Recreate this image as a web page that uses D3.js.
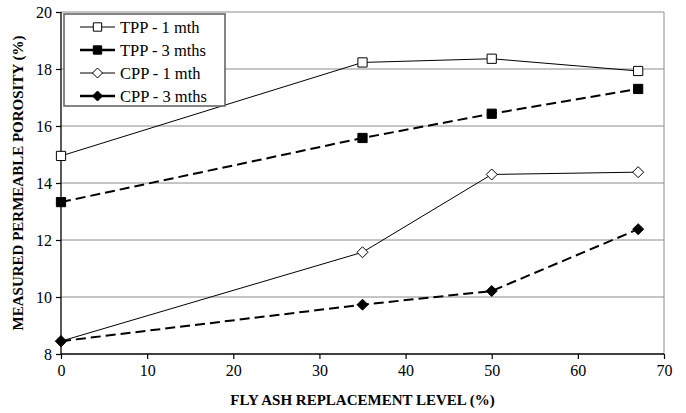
<!DOCTYPE html>
<html>
<head>
<meta charset="utf-8">
<script src="https://cdn.jsdelivr.net/npm/d3@7"></script>
<style>
  body { margin: 0; background: #fff; }
  text { font-family: "Liberation Serif", "Times New Roman", serif; }
</style>
</head>
<body>
<div id="chart"></div>
<script>
// data
const flyAsh = [0, 35, 50, 67];
const tpp1 = [14.95, 18.23, 18.36, 17.93];
const tpp3 = [13.33, 15.58, 16.43, 17.3];
const cpp1 = [8.45, 11.57, 14.3, 14.38];
const cpp3 = [8.45, 9.73, 10.21, 12.38];
const xTicks = [0, 10, 20, 30, 40, 50, 60, 70];
const yTicks = [8, 10, 12, 14, 16, 18, 20];

const seriesNames = ["TPP - 1 mth", "TPP - 3 mths", "CPP - 1 mth", "CPP - 3 mths"];
const seriesValues = [tpp1, tpp3, cpp1, cpp3];
const seriesStyle = [
  { marker: "square", fill: "#fff", width: 1, dash: null },
  { marker: "square", fill: "#000", width: 2, dash: "10,5" },
  { marker: "diamond", fill: "#fff", width: 1, dash: null },
  { marker: "diamond", fill: "#000", width: 2, dash: "10,5" }
];

const W = 686, H = 413;
const margin = { top: 12, right: 22, bottom: 59, left: 61 };
const width = W - margin.left - margin.right,
    height = H - margin.top - margin.bottom;

const svg = d3.select("#chart").append("svg")
    .attr("width", W).attr("height", H);
const g = svg.append("g")
    .attr("transform", `translate(${margin.left},${margin.top})`);

const x = d3.scaleLinear().domain([0, 70]).range([0, width]);
const y = d3.scaleLinear().domain([8, 20]).range([height, 0]);

// gridlines
g.append("g").selectAll("line")
    .data(yTicks.filter(d => d > 8))
    .join("line")
    .attr("x1", 0).attr("x2", width)
    .attr("y1", d => y(d)).attr("y2", d => y(d))
    .attr("stroke", "#8c8c8c").attr("stroke-width", 1);

// right border
g.append("line")
    .attr("x1", width).attr("x2", width)
    .attr("y1", 0).attr("y2", height)
    .attr("stroke", "#8c8c8c");

// axes
const xAxis = g.append("g")
    .attr("transform", `translate(0,${height})`)
    .call(d3.axisBottom(x).tickValues(xTicks).tickSize(5).tickPadding(6));
const yAxis = g.append("g")
    .call(d3.axisLeft(y).tickValues(yTicks).tickSize(5).tickPadding(4));
[xAxis, yAxis].forEach(a => {
  a.select(".domain").attr("stroke", "#000").attr("stroke-width", 1.3);
  a.selectAll(".tick line").attr("stroke", "#000").attr("stroke-width", 1.2);
  a.selectAll(".tick text")
    .style("font-family", "'Liberation Serif', serif")
    .style("font-size", "16px").attr("fill", "#000");
});
// put domain lines flush
xAxis.select(".domain").attr("d", `M0,0H${width}`);
yAxis.select(".domain").attr("d", `M0,0V${height}`);

// lines
const line = d3.line()
    .x((d, i) => x(flyAsh[i]))
    .y(d => y(d));

const markerPath = (type, size) =>
  type === "square"
    ? d3.symbol().type(d3.symbolSquare).size(size)()
    : `M0,${-size}L${size},0L0,${size}L${-size},0Z`;

seriesValues.forEach((vals, s) => {
  const st = seriesStyle[s];
  g.append("path")
      .datum(vals)
      .attr("d", line)
      .attr("fill", "none")
      .attr("stroke", "#000")
      .attr("stroke-width", st.width)
      .attr("stroke-dasharray", st.dash);
  g.selectAll(null)
      .data(vals)
      .join("path")
      .attr("transform", (d, i) => `translate(${x(flyAsh[i])},${y(d)})`)
      .attr("d", st.marker === "square" ? markerPath("square", 85) : markerPath("diamond", 5.5))
      .attr("fill", st.fill)
      .attr("stroke", "#000")
      .attr("stroke-width", 1);
});

// legend
const legend = svg.append("g").attr("transform", "translate(64,14)");
legend.append("rect")
    .attr("width", 161).attr("height", 92)
    .attr("fill", "#fff")
    .attr("stroke", "#666").attr("stroke-width", 1.6);
seriesNames.forEach((name, s) => {
  const st = seriesStyle[s];
  const row = legend.append("g").attr("transform", `translate(0,${13 + s * 23})`);
  row.append("line")
      .attr("x1", 16).attr("x2", 51)
      .attr("stroke", "#000").attr("stroke-width", st.width === 1 ? 1 : 2.5);
  row.append("path")
      .attr("transform", "translate(33.5,0)")
      .attr("d", st.marker === "square" ? markerPath("square", 70) : markerPath("diamond", 5))
      .attr("fill", st.fill).attr("stroke", "#000");
  row.append("text")
      .attr("x", 56).attr("y", 5.5)
      .style("font-size", "16.5px")
      .text(name);
});

// axis titles
svg.append("text")
    .attr("x", margin.left + width / 2).attr("y", 405)
    .attr("text-anchor", "middle")
    .style("font-size", "15px").style("font-weight", "bold")
    .text("FLY ASH REPLACEMENT LEVEL (%)");
svg.append("text")
    .attr("transform", `translate(23,${margin.top + height / 2}) rotate(-90)`)
    .attr("text-anchor", "middle")
    .style("font-size", "15px").style("font-weight", "bold")
    .text("MEASURED PERMEABLE POROSITY (%)");
</script>
</body>
</html>
